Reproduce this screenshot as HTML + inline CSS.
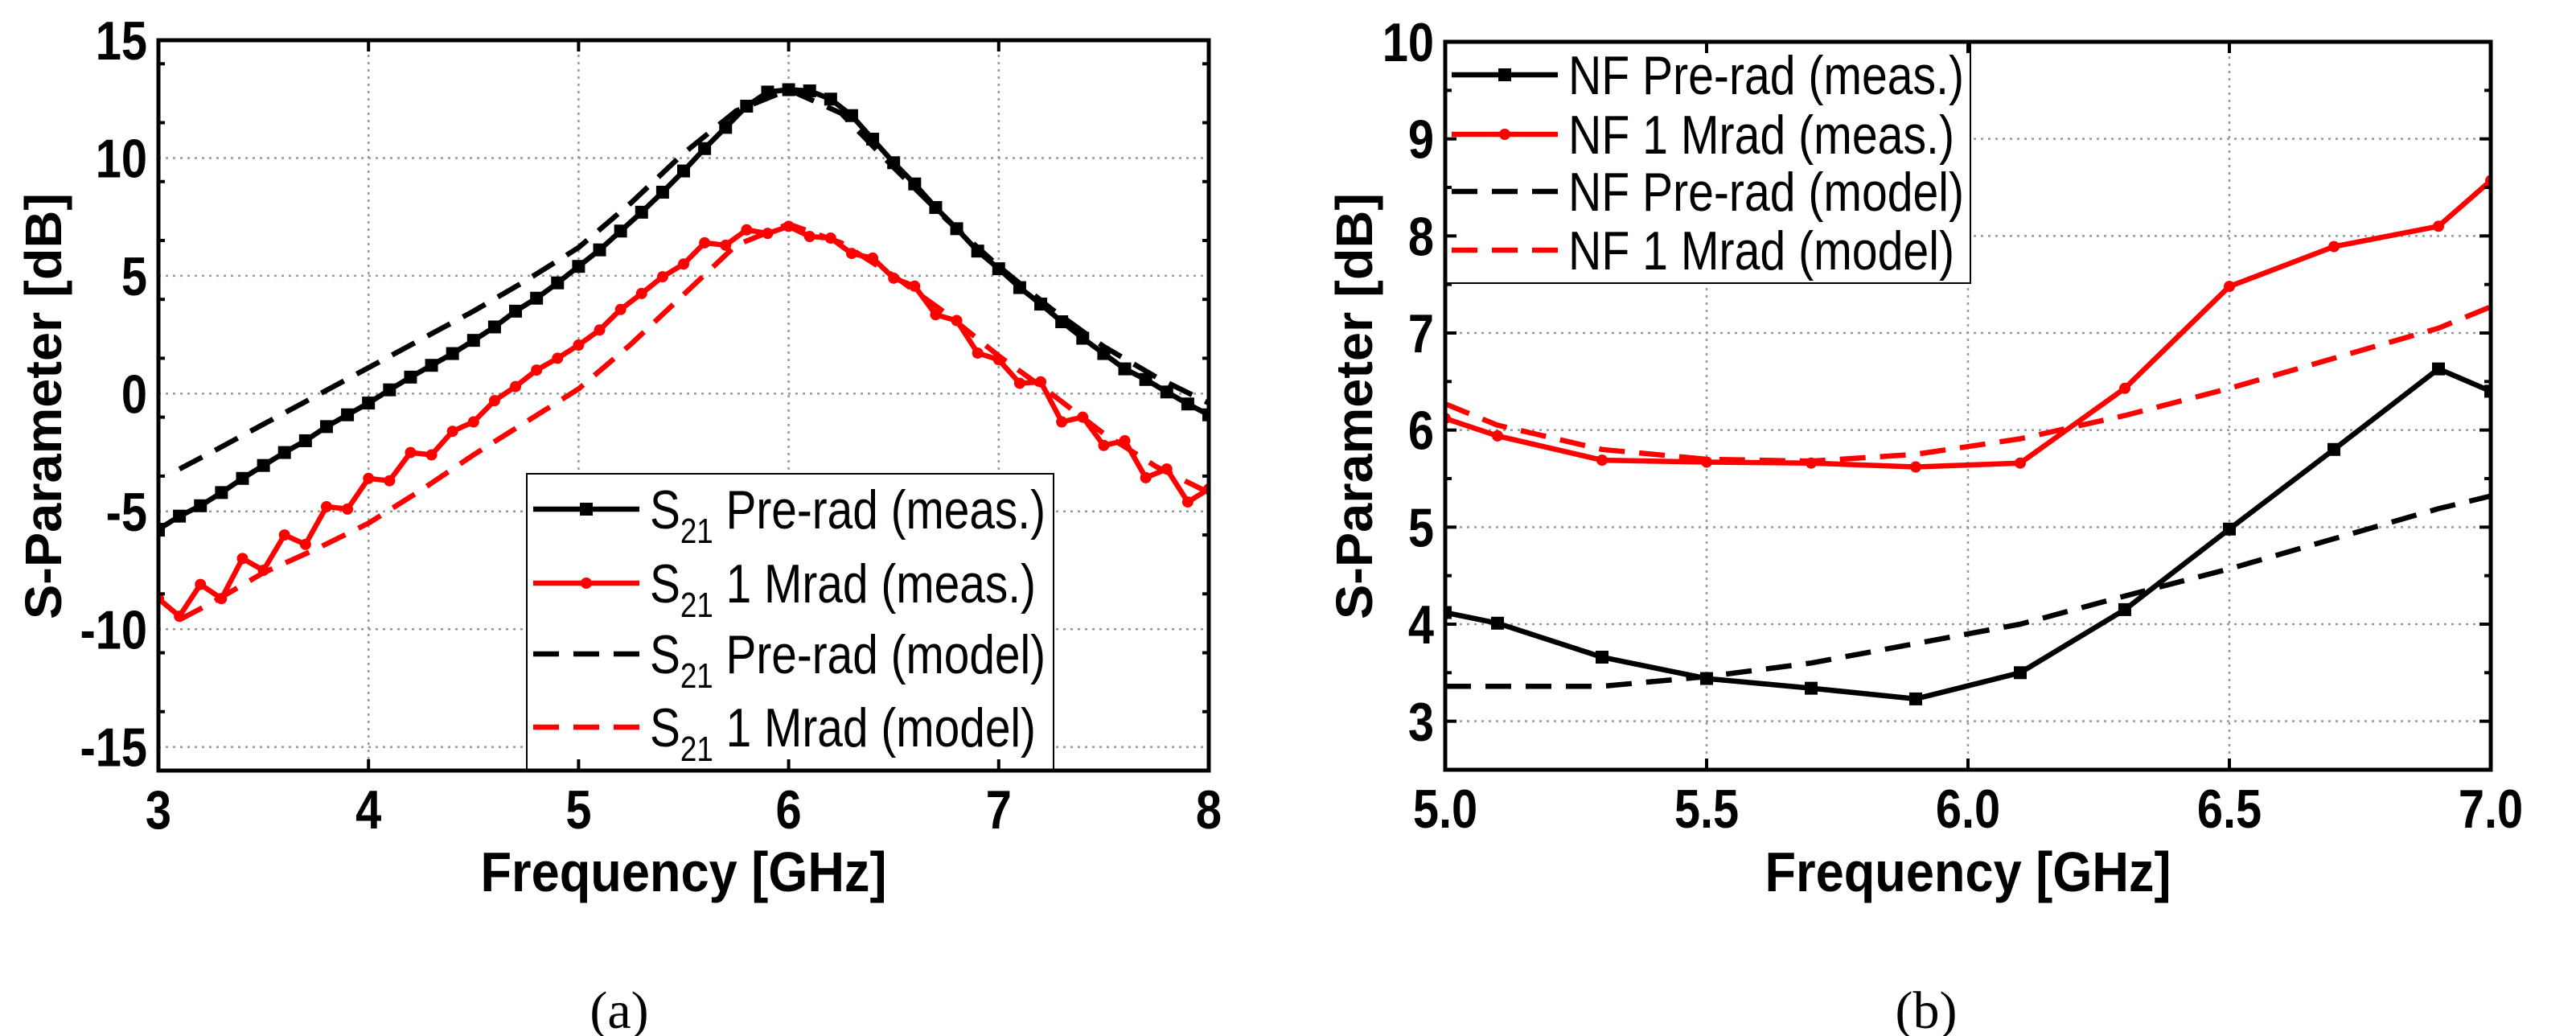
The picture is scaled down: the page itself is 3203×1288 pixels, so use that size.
<!DOCTYPE html>
<html><head><meta charset="utf-8">
<style>html,body{margin:0;padding:0;background:#fff}svg{display:block}</style>
</head><body>
<svg id="fig" xmlns="http://www.w3.org/2000/svg" width="3203" height="1288" viewBox="0 0 3203 1288" font-family="'Liberation Sans', sans-serif">
<rect width="3203" height="1288" fill="#fff"/>
</svg>
<script>
// ---- Chart (a) data ----
const aFreqMeas = [3.0,3.1,3.2,3.3,3.4,3.5,3.6,3.7,3.8,3.9,4.0,4.1,4.2,4.3,4.4,4.5,4.6,4.7,4.8,4.9,5.0,5.1,5.2,5.3,5.4,5.5,5.6,5.7,5.8,5.9,6.0,6.1,6.2,6.3,6.4,6.5,6.6,6.7,6.8,6.9,7.0,7.1,7.2,7.3,7.4,7.5,7.6,7.7,7.8,7.9,8.0];
const aPreMeas = [-5.76,-5.2,-4.76,-4.2,-3.6,-3.05,-2.5,-2.0,-1.4,-0.9,-0.4,0.16,0.7,1.2,1.7,2.26,2.83,3.5,4.05,4.7,5.4,6.1,6.9,7.7,8.55,9.45,10.4,11.3,12.2,12.8,12.9,12.85,12.5,11.8,10.8,9.8,8.9,7.9,7.0,6.05,5.3,4.5,3.8,3.05,2.35,1.7,1.05,0.6,0.07,-0.44,-0.9];
const aRadMeas = [-8.7,-9.45,-8.1,-8.7,-7.0,-7.5,-6.0,-6.4,-4.8,-4.9,-3.6,-3.7,-2.5,-2.6,-1.6,-1.2,-0.3,0.3,1.0,1.5,2.06,2.7,3.57,4.25,4.96,5.5,6.4,6.3,6.95,6.8,7.1,6.67,6.6,5.95,5.75,4.9,4.56,3.35,3.1,1.72,1.44,0.44,0.5,-1.2,-1.0,-2.2,-2.0,-3.57,-3.2,-4.6,-4.05];
const aFreqModel = [3.1,3.25,3.5,3.75,4.0,4.25,4.5,4.75,5.0,5.25,5.5,5.75,6.0,6.25,6.5,6.75,7.0,7.25,7.5,7.75,8.0];
const aPreModel = [-3.2,-2.5,-1.3,-0.1,1.1,2.3,3.5,4.8,6.2,8.1,10.2,12.0,12.9,11.9,9.6,7.4,5.4,3.6,2.0,0.7,-0.4];
const aRadModel = [-9.6,-8.9,-7.6,-6.6,-5.5,-4.1,-2.6,-1.2,0.2,2.1,4.2,6.3,7.2,6.4,5.0,3.4,1.6,0.0,-1.7,-3.1,-4.2];
const aXTicks = [3,4,5,6,7,8];
const aYTicks = [-15,-10,-5,0,5,10,15];
// ---- Chart (b) data ----
const bFreq = [5.0,5.1,5.3,5.5,5.7,5.9,6.1,6.3,6.5,6.7,6.9,7.0];
const bPreMeas = [4.12,4.01,3.66,3.44,3.34,3.23,3.5,4.15,4.98,5.8,6.63,6.4];
const bRadMeas = [6.12,5.94,5.69,5.67,5.66,5.62,5.66,6.43,7.48,7.89,8.1,8.57];
const bPreModel = [3.36,3.36,3.36,3.46,3.6,3.8,4.0,4.29,4.57,4.88,5.19,5.32];
const bRadModel = [6.27,6.05,5.8,5.7,5.68,5.75,5.91,6.15,6.43,6.74,7.05,7.27];
const bXTicks = [5.0,5.5,6.0,6.5,7.0];
const bYTicks = [3,4,5,6,7,8,9,10];

const NS = "http://www.w3.org/2000/svg";
const svg = document.getElementById('fig');
function mk(tag, attrs, parent){
  const e = document.createElementNS(NS, tag);
  for (const k in attrs) e.setAttribute(k, attrs[k]);
  (parent||svg).appendChild(e);
  return e;
}

function panel(cfg){
  const g = mk('g', {});
  
  
  const X = v => cfg.x0 + (v - cfg.xmin) / (cfg.xmax - cfg.xmin) * (cfg.x1 - cfg.x0);
  const Y = v => cfg.y1 - (v - cfg.ymin) / (cfg.ymax - cfg.ymin) * (cfg.y1 - cfg.y0);
  cfg.xTicks.forEach(t => {
    if (t > cfg.xmin && t < cfg.xmax) {
      const l = mk('line', {x1:X(t), x2:X(t), y1:cfg.y0, y2:cfg.y1, stroke:'#999', 'stroke-width':2.5, 'stroke-dasharray':'3 6'}, g);
      
      
    }
  });
  cfg.yTicks.forEach(t => {
    if (t > cfg.ymin && t < cfg.ymax) {
      const l = mk('line', {x1:cfg.x0, x2:cfg.x1, y1:Y(t), y2:Y(t), stroke:'#999', 'stroke-width':2.5, 'stroke-dasharray':'3 6'}, g);
      
      
    }
  });
  const clip = mk('clipPath', {id:cfg.name+'-clip'}, g);
  mk('rect', {x:cfg.x0, y:cfg.y0, width:cfg.x1-cfg.x0, height:cfg.y1-cfg.y0}, clip);
  const sg = mk('g', {'clip-path':'url(#'+cfg.name+'-clip)'}, g);
  cfg.series.forEach(s => {
    const pts = s.xs.map((x,i) => X(x).toFixed(1)+','+Y(s.ys[i]).toFixed(1)).join(' ');
    const pl = mk('polyline', {points:pts, fill:'none', stroke:s.color, 'stroke-width':6.5, 'stroke-linejoin':'round'}, sg);
    if (s.dash) pl.setAttribute('stroke-dasharray', s.dash);
    
    
    if (s.marker) {
      s.xs.forEach((x,i) => {
        let m;
        if (s.marker === 'square') m = mk('rect', {x:X(x)-8, y:Y(s.ys[i])-8, width:16, height:16, fill:s.color}, sg);
        else m = mk('circle', {cx:X(x), cy:Y(s.ys[i]), r:7, fill:s.color}, sg);
        
        
      });
    }
  });
  const L = cfg.legend;
  const lg = mk('g', {}, g);
  
  
  mk('rect', {x:L.x, y:L.y, width:L.w, height:L.h, fill:'#fff', stroke:'#000', 'stroke-width':2}, lg);
  cfg.series.forEach((s,i) => {
    const yy = L.rows[i];
    const eg = mk('g', {}, lg);
    
    
    const ln = mk('line', {x1:L.x+8, x2:L.x+140, y1:yy, y2:yy, stroke:s.color, 'stroke-width':6.5}, eg);
    if (s.dash) ln.setAttribute('stroke-dasharray', s.dash);
    if (s.marker === 'square') mk('rect', {x:L.x+66, y:yy-8, width:16, height:16, fill:s.color}, eg);
    else if (s.marker) mk('circle', {cx:L.x+74, cy:yy, r:7, fill:s.color}, eg);
    const t = mk('text', {x:L.x+L.tx, y:yy+24, 'font-size':68, fill:'#000', textLength:s.labelLen, lengthAdjust:'spacingAndGlyphs'}, eg);
    if (s.sub) {
      const a = mk('tspan', {}, t); a.textContent = 'S';
      const b = mk('tspan', {'font-size':44, dy:18}, t); b.textContent = '21';
      const c = mk('tspan', {dy:-18}, t); c.textContent = ' ' + s.label;
    } else t.textContent = s.label;
  });
  const fr = mk('rect', {x:cfg.x0, y:cfg.y0, width:cfg.x1-cfg.x0, height:cfg.y1-cfg.y0, fill:'none', stroke:'#000', 'stroke-width':5}, g);
  
  
  cfg.xTicks.forEach(t => {
    mk('line', {x1:X(t), x2:X(t), y1:cfg.y1, y2:cfg.y1-14, stroke:'#000', 'stroke-width':4}, g);
    mk('line', {x1:X(t), x2:X(t), y1:cfg.y0, y2:cfg.y0+14, stroke:'#000', 'stroke-width':4}, g);
    const tl = mk('text', {x:0, y:0, 'font-size':68, 'font-weight':'bold', 'text-anchor':'middle', fill:'#000', transform:'translate('+X(t)+','+(cfg.y1+72)+') scale(0.85,1)'}, g);
    tl.textContent = cfg.xFmt(t);
    
    
  });
  for (let v = cfg.ymin; v <= cfg.ymax + 1e-9; v += cfg.yMinor) {
    const major = cfg.yTicks.some(t => Math.abs(t - v) < 1e-6);
    const len = major ? 14 : 8;
    mk('line', {x1:cfg.x0, x2:cfg.x0+len, y1:Y(v), y2:Y(v), stroke:'#000', 'stroke-width':4}, g);
    mk('line', {x1:cfg.x1, x2:cfg.x1-len, y1:Y(v), y2:Y(v), stroke:'#000', 'stroke-width':4}, g);
  }
  cfg.yTicks.forEach(t => {
    const tl = mk('text', {x:0, y:0, 'font-size':68, 'font-weight':'bold', 'text-anchor':'end', fill:'#000', transform:'translate('+(cfg.x0-14)+','+(Y(t)+24)+') scale(0.85,1)'}, g);
    tl.textContent = String(t);
    
    
  });
  const xt = mk('text', {x:(cfg.x0+cfg.x1)/2, y:1108, 'font-size':70, 'font-weight':'bold', 'text-anchor':'middle', fill:'#000', textLength:505, lengthAdjust:'spacingAndGlyphs'}, g);
  xt.textContent = 'Frequency [GHz]';
  
  
  const yt = mk('text', {x:0, y:0, 'font-size':64, 'font-weight':'bold', 'text-anchor':'middle', fill:'#000', textLength:530, lengthAdjust:'spacingAndGlyphs', transform:'translate('+cfg.ytX+',505) rotate(-90)'}, g);
  yt.textContent = 'S-Parameter [dB]';
  
  
  const cap = mk('text', {x:cfg.capX, y:1278, 'font-size':66, 'font-family':"'Liberation Serif', serif", 'text-anchor':'middle', fill:'#000'}, g);
  cap.textContent = cfg.cap;
  
  
}

panel({
  name:'chart-a', x0:197, x1:1503, y0:50, y1:958, xmin:3, xmax:8, ymin:-16, ymax:15,
  xTicks:aXTicks, yTicks:aYTicks, yMinor:2.5, xFmt:t=>String(t), ytX:76, capX:770, cap:'(a)',
  series:[
    {id:'s21-prerad-meas', xs:aFreqMeas, ys:aPreMeas, color:'#000', marker:'square', sub:true, label:'Pre-rad (meas.)', labelLen:492},
    {id:'s21-1mrad-meas', xs:aFreqMeas, ys:aRadMeas, color:'#f00', marker:'dot', sub:true, label:'1 Mrad (meas.)', labelLen:480},
    {id:'s21-prerad-model', xs:aFreqModel, ys:aPreModel, color:'#000', dash:'32 18', sub:true, label:'Pre-rad (model)', labelLen:492},
    {id:'s21-1mrad-model', xs:aFreqModel, ys:aRadModel, color:'#f00', dash:'32 18', sub:true, label:'1 Mrad (model)', labelLen:480}
  ],
  legend:{x:655, y:589, w:655, h:369, tx:153, rows:[633,725,813,904]}
});
panel({
  name:'chart-b', x0:1797, x1:3097, y0:52, y1:957, xmin:5, xmax:7, ymin:2.5, ymax:10,
  xTicks:bXTicks, yTicks:bYTicks, yMinor:0.5, xFmt:t=>t.toFixed(1), ytX:1706, capX:2395, cap:'(b)',
  series:[
    {id:'nf-prerad-meas', xs:bFreq, ys:bPreMeas, color:'#000', marker:'square', label:'NF Pre-rad (meas.)', labelLen:492},
    {id:'nf-1mrad-meas', xs:bFreq, ys:bRadMeas, color:'#f00', marker:'dot', label:'NF 1 Mrad (meas.)', labelLen:480},
    {id:'nf-prerad-model', xs:bFreq, ys:bPreModel, color:'#000', dash:'32 18', label:'NF Pre-rad (model)', labelLen:492},
    {id:'nf-1mrad-model', xs:bFreq, ys:bRadModel, color:'#f00', dash:'32 18', label:'NF 1 Mrad (model)', labelLen:480}
  ],
  legend:{x:1797, y:52, w:653, h:300, tx:153, rows:[93,167,238,311]}
});
</script>
</body></html>
